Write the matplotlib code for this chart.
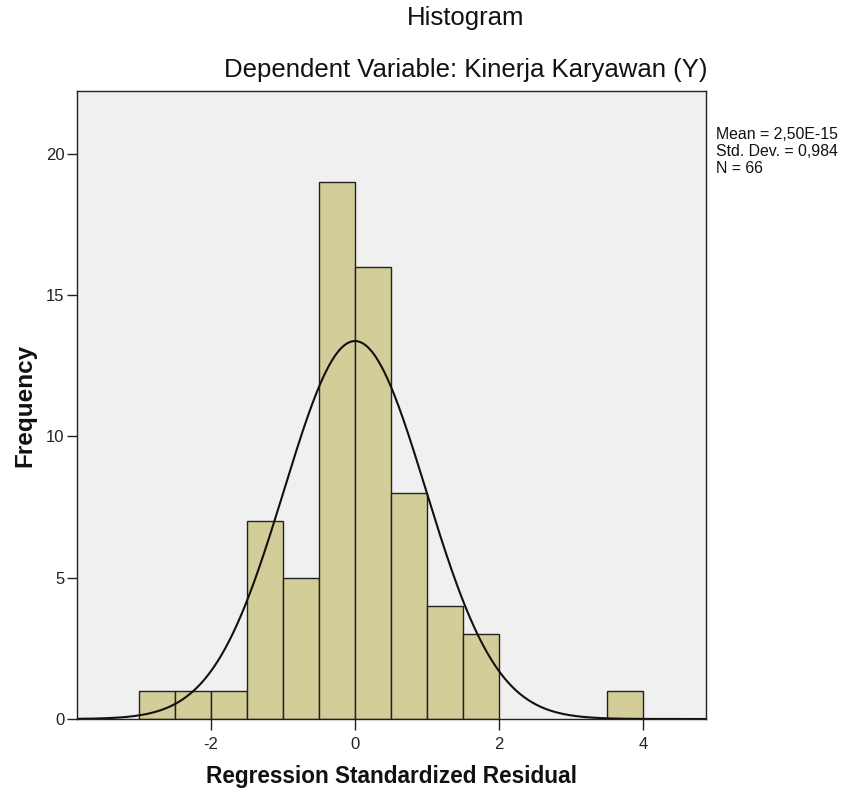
import numpy as np
import matplotlib
matplotlib.use("Agg")
import matplotlib.pyplot as plt

plt.rcParams['font.family'] = ['Liberation Sans', 'DejaVu Sans']

bin_left = [-3.0, -2.5, -2.0, -1.5, -1.0, -0.5, 0.0, 0.5, 1.0, 1.5, 2.0, 2.5, 3.0, 3.5]
counts   = [1, 1, 1, 7, 5, 19, 16, 8, 4, 3, 0, 0, 0, 1]
bin_width = 0.5
mean = 2.50e-15
std = 0.984
n = 66
x_ticks = [-2, 0, 2, 4]
y_ticks = [0, 5, 10, 15, 20]

fig = plt.figure(figsize=(8.49, 7.98), dpi=100)
ax = fig.add_axes([77/849, 79/798, (706-77)/849, (719-91)/798])
ax.set_facecolor('#F0F0F0')

for l, c in zip(bin_left, counts):
    if c > 0:
        ax.bar(l, c, width=bin_width, align='edge', color='#D3CE99',
               edgecolor='#222222', linewidth=1.0, zorder=2)

xlim = (-3.861, 4.875)
xs = np.linspace(xlim[0], xlim[1], 600)
ys = n * bin_width / (std * np.sqrt(2 * np.pi)) * np.exp(-0.5 * ((xs - mean) / std) ** 2)
ax.plot(xs, ys, color='#111111', linewidth=1.5, zorder=3)

ax.set_xlim(*xlim)
ax.set_ylim(0, 22.23)
ax.set_xticks(x_ticks)
ax.set_xticklabels([str(t) if t >= 0 else '-' + str(-t) for t in x_ticks])
ax.set_yticks(y_ticks)
for s in ax.spines.values():
    s.set_color('#222222')
    s.set_linewidth(1.0)
ax.tick_params(axis='both', direction='out', width=1.0, color='#222222',
               labelsize=12, labelcolor='#222222')
ax.tick_params(axis='y', length=7.5, pad=1.5)
ax.tick_params(axis='x', length=8, pad=5)

ax.set_xlabel('Regression Standardized Residual', fontsize=16.3, fontweight='bold',
              labelpad=9, color='#111111')
ax.set_ylabel('Frequency', fontsize=17.5, fontweight='bold', labelpad=7, color='#111111')

fig.text(466/849, 1 - 18/798, 'Histogram', ha='center', va='center', fontsize=18.5, color='#111111')
fig.text(466/849, 1 - 70/798, 'Dependent Variable: Kinerja Karyawan (Y)', ha='center', va='center',
         fontsize=18.5, color='#111111')
fig.text(716/849, 1 - 127/798, 'Mean = 2,50E-15\nStd. Dev. = 0,984\nN = 66', ha='left', va='top',
         fontsize=11.4, color='#111111', linespacing=1.17)

fig.savefig('out.png', dpi=100)
